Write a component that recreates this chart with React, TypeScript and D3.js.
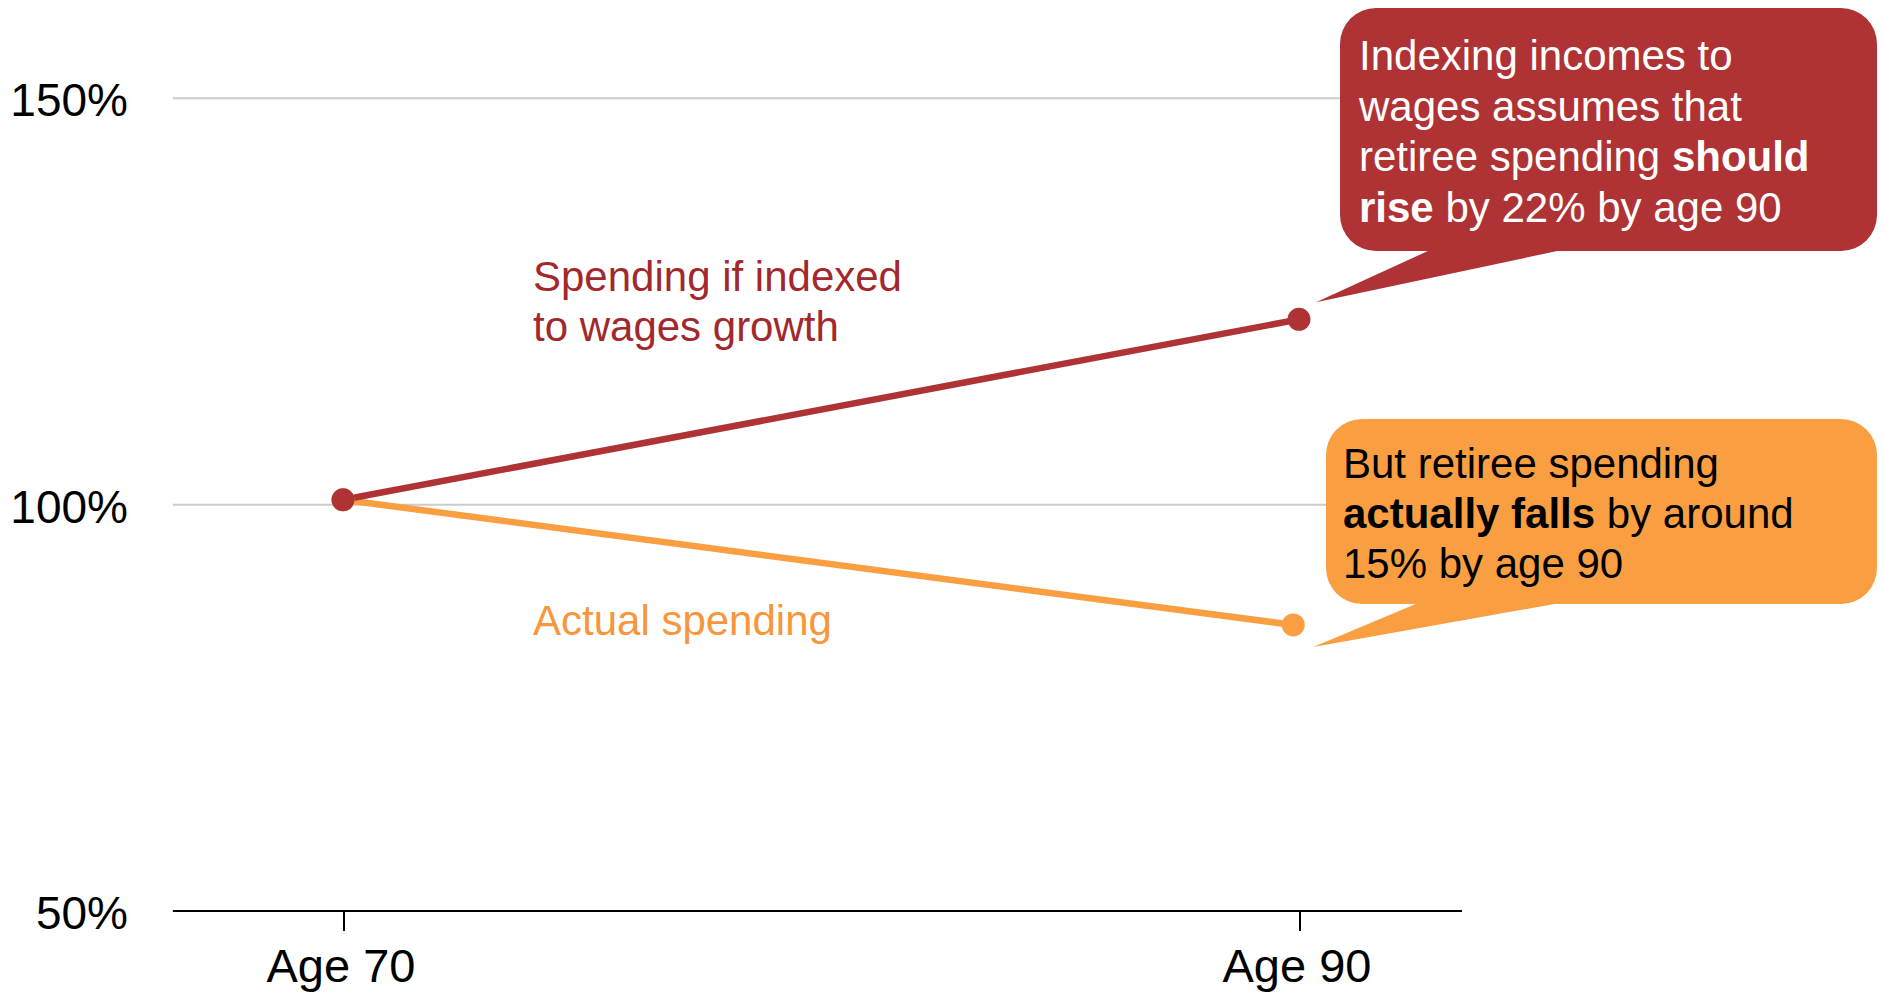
import React from "react";
import * as d3 from "d3";

// ---- data ----
const wageAges = [70, 90];
const wageValues = [100.6, 122.8];
const actualAges = [70, 89.88];
const actualValues = [100.6, 85.2];
const yTicks = [50, 100, 150];
const xTicks = [70, 90];
const xTickLabels = ["Age 70", "Age 90"];
const wageLabelLines = ["Spending if indexed", "to wages growth"];
const actualLabel = "Actual spending";
// callout lines: [text, bold][]
const wageCallout: [string, boolean][][] = [
  [["Indexing incomes to", false]],
  [["wages assumes that", false]],
  [["retiree spending ", false], ["should", true]],
  [["rise", true], [" by 22% by age 90", false]],
];
const actualCallout: [string, boolean][][] = [
  [["But retiree spending", false]],
  [["actually falls", true], [" by around", false]],
  [["15% by age 90", false]],
];

const RED = "#AF3234";
const RED_TEXT = "#A3282C";
const ORANGE = "#F99F42";
const ORANGE_TEXT = "#F7963B";
const FONT = "'Liberation Sans', Arial, Helvetica, sans-serif";

export default function App() {
  const W = 1884;
  const H = 993;
  const x = d3.scaleLinear().domain([70, 90]).range([343, 1299]);
  const y = d3.scaleLinear().domain([50, 150]).range([911, 98.3]);
  const axisLeft = x(66.44);
  const axisRight = x(93.41);

  const line = d3
    .line<[number, number]>()
    .x((d) => x(d[0]))
    .y((d) => y(d[1]));

  const wagePts: [number, number][] = wageAges.map((a, i) => [a, wageValues[i]]);
  const actualPts: [number, number][] = actualAges.map((a, i) => [a, actualValues[i]]);

  const redEnd = [x(wageAges[1]), y(wageValues[1])];
  const orEnd = [x(actualAges[1]), y(actualValues[1])];

  // callout boxes anchored relative to end points
  const redBox = { x: 1340, y: 8, w: 537, h: 243 };
  const orBox = { x: 1326, y: 419, w: 551, h: 185 };
  const redTip = [redEnd[0] + 17, redEnd[1] - 17];
  const orTip = [orEnd[0] + 20, orEnd[1] + 22];
  const redTail = `M${1430},${redBox.y + redBox.h - 1} L${redTip[0]},${redTip[1]} L${1562},${redBox.y + redBox.h - 1} Z`;
  const orTail = `M${1418},${orBox.y + orBox.h - 1} L${orTip[0]},${orTip[1]} L${1560},${orBox.y + orBox.h - 1} Z`;

  return (
    <svg
      width={W}
      height={H}
      style={{ position: "absolute", left: 0, top: 0, background: "#fff" }}
      fontFamily={FONT}
    >
      {/* gridlines */}
      {yTicks
        .filter((t) => t !== 50)
        .map((t) => (
          <line
            key={t}
            x1={axisLeft}
            x2={axisRight}
            y1={y(t)}
            y2={y(t)}
            stroke="#cccccc"
            strokeWidth={2}
          />
        ))}
      {/* y labels */}
      {yTicks.map((t) => (
        <text key={t} x={128} y={y(t) + 18} textAnchor="end" fontSize={46} fill="#000">
          {t}%
        </text>
      ))}
      {/* x axis */}
      <line x1={axisLeft} x2={axisRight} y1={y(50)} y2={y(50)} stroke="#000" strokeWidth={2} />
      {xTicks.map((t, i) => (
        <g key={t}>
          <line x1={x(t) + 1} x2={x(t) + 1} y1={y(50)} y2={y(50) + 20} stroke="#000" strokeWidth={2} />
          <text x={x(t) - 2} y={982} textAnchor="middle" fontSize={47} fill="#000">
            {xTickLabels[i]}
          </text>
        </g>
      ))}

      {/* lines */}
      <path d={line(actualPts) || ""} fill="none" stroke={ORANGE} strokeWidth={6.5} />
      <path d={line(wagePts) || ""} fill="none" stroke={RED} strokeWidth={6.5} />
      <circle cx={orEnd[0]} cy={orEnd[1]} r={11.5} fill={ORANGE} />
      <circle cx={x(actualAges[0])} cy={y(actualValues[0])} r={11.5} fill={ORANGE} />
      <circle cx={redEnd[0]} cy={redEnd[1]} r={11.5} fill={RED} />
      <circle cx={x(wageAges[0])} cy={y(wageValues[0])} r={11.5} fill={RED} />

      {/* series labels */}
      <text x={533} y={291} fontSize={42} fill={RED_TEXT}>
        {wageLabelLines.map((l, i) => (
          <tspan key={i} x={533} y={291 + i * 50}>
            {l}
          </tspan>
        ))}
      </text>
      <text x={533} y={635} fontSize={42} fill={ORANGE_TEXT}>
        {actualLabel}
      </text>

      {/* red callout */}
      <rect x={redBox.x} y={redBox.y} width={redBox.w} height={redBox.h} rx={36} ry={36} fill={RED} />
      <path d={redTail} fill={RED} />
      <text fontSize={42} fill="#fff">
        {wageCallout.map((ln, i) => (
          <tspan key={i} x={1359} y={70 + i * 50.5}>
            {ln.map(([s, b], j) => (
              <tspan key={j} fontWeight={b ? "bold" : "normal"}>
                {s}
              </tspan>
            ))}
          </tspan>
        ))}
      </text>

      {/* orange callout */}
      <rect x={orBox.x} y={orBox.y} width={orBox.w} height={orBox.h} rx={36} ry={36} fill={ORANGE} />
      <path d={orTail} fill={ORANGE} />
      <text fontSize={42} fill="#000">
        {actualCallout.map((ln, i) => (
          <tspan key={i} x={1343} y={478 + i * 50}>
            {ln.map(([s, b], j) => (
              <tspan key={j} fontWeight={b ? "bold" : "normal"}>
                {s}
              </tspan>
            ))}
          </tspan>
        ))}
      </text>
    </svg>
  );
}
